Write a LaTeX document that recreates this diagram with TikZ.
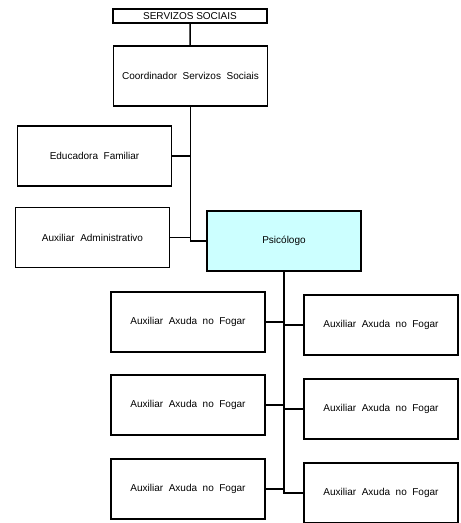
\documentclass[tikz,border=0pt]{standalone}
\usepackage{fontspec}
\setmainfont{Liberation Sans}
\usetikzlibrary{positioning}
\definecolor{psicofill}{RGB}{204,255,255}
\tikzset{
  post/.style={draw, line width=1.5pt, fill=white, minimum width=154pt, minimum height=60pt, inner sep=0pt, align=center, font=\fontsize{10}{11}\selectfont},
  headbox/.style={draw, line width=1.5pt, fill=white, minimum width=154pt, minimum height=14pt, inner sep=0pt, font=\fontsize{10}{11}\selectfont},
  highlight/.style={post, fill=psicofill},
  link/.style={line width=1.5pt}
}

\begin{document}
\begin{tikzpicture}[x=1pt, y=-1pt]
  \useasboundingbox (0,0) rectangle (461,523);

  % Top of the chart
  \node[headbox] (servizos) at (190,16) {SERVIZOS SOCIAIS};
  \node[post] (coord) at (190.5,76) {Coordinador\ \ Servizos\ \ Sociais};

  % Staff hanging off the coordinator
  \node[post] (educ) at (94.5,156) {Educadora\ \ Familiar};
  \node[post] (admin) at (92.5,237.5) {Auxiliar\ \ Administrativo};
  \node[highlight] (psico) at (284,241) {Psicólogo};

  % Home help staff, two columns
  \node[post] (left1) at (188,322) {Auxiliar\ \ Axuda\ \ no\ \ Fogar};
  \node[post] (left2) at (188,405) {Auxiliar\ \ Axuda\ \ no\ \ Fogar};
  \node[post] (left3) at (188,489) {Auxiliar\ \ Axuda\ \ no\ \ Fogar};
  \node[post] (right1) at (381,325) {Auxiliar\ \ Axuda\ \ no\ \ Fogar};
  \node[post] (right2) at (381,409) {Auxiliar\ \ Axuda\ \ no\ \ Fogar};
  \node[post] (right3) at (381,493) {Auxiliar\ \ Axuda\ \ no\ \ Fogar};

  % Upper spine
  \draw[link] (servizos) -- (coord);
  \draw[link] (coord.south) |- (psico.west);
  \draw[link] (educ.east) -| (coord.south);
  \draw[link] (admin.east) -| (coord.south);

  % Lower spine
  \draw[link] (psico.south) |- (right3.west);
  \foreach \n in {left1,left2,left3,right1,right2}
    \draw[link] (\n) -| (psico.south);
\end{tikzpicture}
\end{document}
